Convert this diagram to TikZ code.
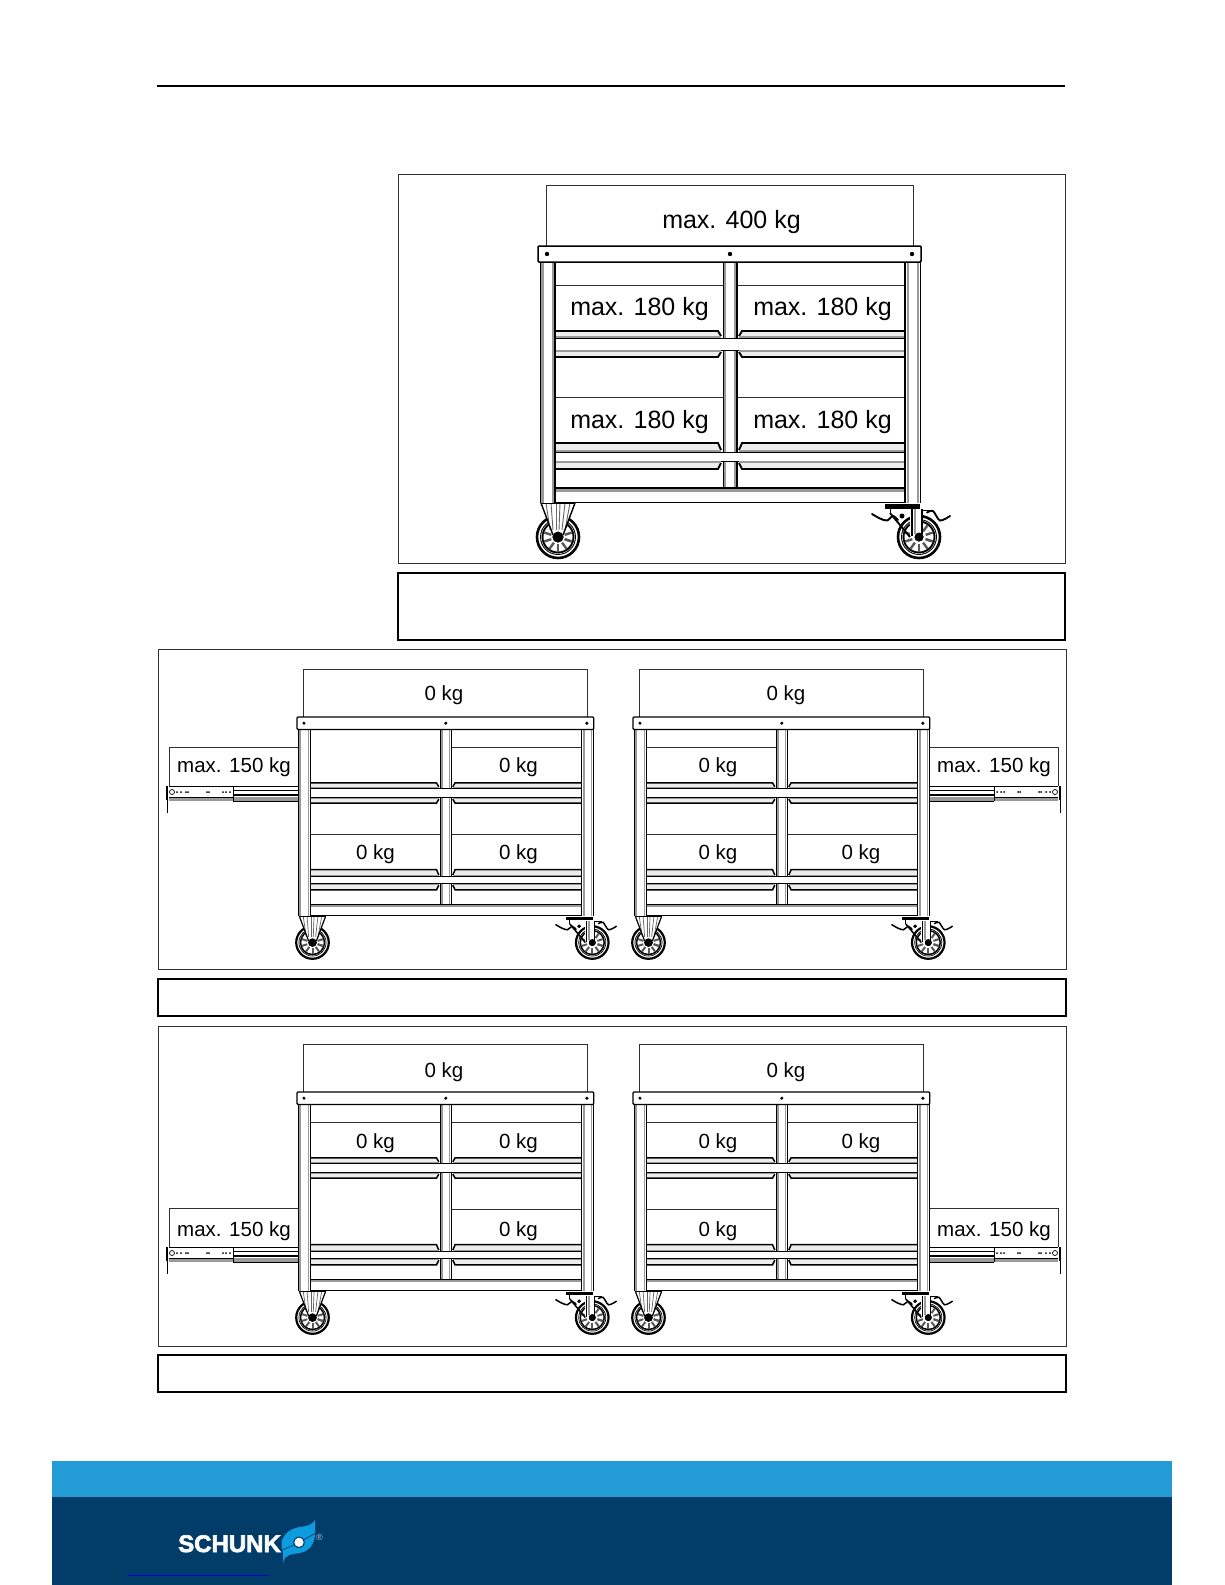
\documentclass[tikz,border=0pt]{standalone}
\usepackage{fontspec}
\usetikzlibrary{calc}
\setmainfont{Liberation Sans}
\definecolor{darkband}{HTML}{023D6A}
\definecolor{lightband}{HTML}{239CD6}
\definecolor{logoblue}{HTML}{0C9BDD}
\definecolor{stripgray}{HTML}{9A9A9A}
\definecolor{framegray}{HTML}{303030}
\tikzset{
  panelframe/.style={draw=framegray,line width=0.9pt},
  capside/.style={draw=black,line width=1.1pt},
  capedge/.style={draw=black,line width=2.7pt},
  biglabel/.style={font=\fontsize{25}{25}\selectfont,inner sep=0pt},
  smalllabel/.style={font=\fontsize{20.5}{21}\selectfont,inner sep=0pt},
}
\newcommand{\capbox}[4]{%
  \draw[capside] (#1,#2) rectangle (#3,#4);
  \draw[capedge] (#1-0.5,#2) -- (#3+0.5,#2);
  \draw[capedge] (#1-0.5,#4) -- (#3+0.5,#4);
}
% #1 x, #2 y, #3 hub radius, #4 thin lw, #5 thick lw
\newcommand{\onewheel}[5]{%
  \fill[white] (#1,#2) circle[radius=22];
  \draw[line width=#5+0.7pt] (#1,#2) circle[radius=21];
  \draw[line width=#4] (#1,#2) circle[radius=17.5];
  \draw[line width=#5] (#1,#2) circle[radius=15.5];
  \foreach \a in {18,54,...,378} {
    \draw[black!65,line width=#5+0.5pt] ($(#1,#2)+(\a:7)$) -- ($(#1,#2)+(\a:14.5)$);
  }
  \fill (#1,#2) circle[radius=#3];
}
\newcommand{\rowshelf}[6]{% t, a, c, b + thin thick
  \fill[stripgray!18] (17,#1) rectangle (181,#2);
  \fill[stripgray!18] (203,#1) rectangle (367,#2);
  \fill[stripgray!18] (17,#3) rectangle (181,#4);
  \fill[stripgray!18] (203,#3) rectangle (367,#4);
  \draw[line width=#6] (17,#1) -- (180,#1) -- (183,#2-2);
  \draw[line width=#6] (367,#1) -- (204,#1) -- (201,#2-2);
  \draw[line width=#6] (17,#4) -- (180,#4) -- (183,#3+2);
  \draw[line width=#6] (367,#4) -- (204,#4) -- (201,#3+2);
  \fill[white] (17,#2) rectangle (367,#3);
  \draw[line width=#5] (17,#2) -- (367,#2);
  \draw[line width=#5] (17,#3) -- (367,#3);
  \fill[stripgray] (17,#2-2.2) rectangle (183,#2-0.4);
  \fill[stripgray] (201,#2-2.2) rectangle (367,#2-0.4);
  \fill[stripgray] (17,#3+0.4) rectangle (183,#3+2.2);
  \fill[stripgray] (201,#3+0.4) rectangle (367,#3+2.2);
}
% #1 x, #2 y, #3 scale, #4 thin lw, #5 thick lw, #6 list of bay/row box lines
\newcommand{\cartbody}[6]{%
\begin{scope}[shift={(#1,#2)},x=#3pt,y=-#3pt]
  % load on the top
  \draw[line width=#4,framegray] (8,0) -- (8,-61) -- (375,-61) -- (375,0);
  % boxes on the shelves
  \foreach \bx/\by in {#6} {
    \draw[line width=#4,framegray] (\bx,\by) -- ++(168,0);
  }
  % centre post
  \fill[white] (185,16) rectangle (199,242);
  \fill[stripgray] (185,16) rectangle (188,242);
  \fill[stripgray] (196,16) rectangle (198,242);
  \draw[line width=#4] (185,16) -- (185,242);
  \draw[line width=#4+0.3pt] (199,16) -- (199,242);
  % shelves
  \rowshelf{85}{92}{104}{111}{#4}{#5}
  \rowshelf{197}{206}{215}{223}{#4}{#5}
  % bottom cross bar
  \fill[white] (17,242) rectangle (367,256);
  \fill[stripgray] (17,243) rectangle (367,245.5);
  \draw[line width=#4+0.4pt] (17,242) -- (367,242);
  \draw[line width=#4+0.5pt] (17,256.5) -- (367,256.5);
  % wheels
  \onewheel{20}{291}{5.5}{#4}{#5}
  \onewheel{381}{291}{4.5}{#4}{#5}
  % fixed caster
  \fill[white] (3,257) -- (37,257) -- (25,289) -- (15,289) -- cycle;
  \foreach \hx/\hb in {8/12,13/15,18/18,22/21,27/24,32/27} {
    \draw[line width=#4,black!60] (\hx,257) -- (\hb,284);
  }
  \draw[line width=#5] (3,257) -- (37,257);
  \draw[line width=#4+0.5pt] (3,257) -- (15,289);
  \draw[line width=#4+0.5pt] (37,257) -- (25,289);
  \fill (20,291) circle[radius=5.5];
  % swivel caster with brake
  \fill[white] (372,264) rectangle (384,291);
  \draw[line width=#4+0.4pt] (374,263) -- (374,290);
  \draw[line width=#4+0.4pt] (384,263) -- (384,288);
  \fill[stripgray] (376,263) rectangle (378,288);
  \fill (347,257.5) rectangle (382,262.5);
  \draw[line width=#4] (352,262) -- (352,267);
  \draw[line width=#5,line cap=round] plot[smooth,tension=0.5] coordinates {(334,268) (342,272.5) (349,274.5) (355,270) (360,274)};
  \draw[line width=#5] (352,267) -- (372,291);
  \draw[line width=#4] (384,264) -- (394,264);
  \draw[line width=#5,line cap=round] plot[smooth,tension=0.5] coordinates {(389,266.5) (395,265) (402,274.5) (412,270)};
  \fill (364,270) circle[radius=2.5];
  \fill (381,291) circle[radius=4.5];
  % legs
  \fill[white] (2,14) rectangle (17,257);
  \fill[stripgray] (3,16) rectangle (5.5,257);
  \fill[stripgray] (14,16) rectangle (16,257);
  \draw[line width=#4] (2,16) -- (2,257);
  \draw[line width=#4+0.6pt] (17,16) -- (17,257);
  \fill[white] (367,14) rectangle (382,257);
  \fill[stripgray] (369,16) rectangle (371,257);
  \fill[stripgray] (379,16) rectangle (381,257);
  \draw[line width=#4+0.6pt] (367,16) -- (367,257);
  \draw[line width=#4] (382,16) -- (382,257);
  % table top
  \draw[line width=#4+0.6pt,fill=white,rounded corners=1pt] (0,0) rectangle (383,16);
  \fill (9,8) circle[radius=2.2];
  \fill (192,8) circle[radius=2.2];
  \fill (374,8) circle[radius=2.2];
\end{scope}}
% #1 x, #2 y, #3 direction (+1 outward to the right, -1 outward to the left)
\newcommand{\slidebody}[3]{%
\begin{scope}[shift={(#1,#2)},x=#3 pt,y=-1pt]
  \draw[line width=0.8pt,framegray] (0,39) -- (0,0) -- (129,0) -- (129,39);
  \fill[stripgray] (0,50) rectangle (129,54);
  \fill[white] (0,39) rectangle (129,50);
  \draw[line width=0.8pt] (0,39) -- (129,39);
  \draw[line width=1.2pt] (0,43.5) -- (65,43.5);
  \draw[line width=1.2pt] (0,48) -- (65,48);
  \draw[line width=1pt] (0,54) -- (65,54);
  \draw[line width=1pt] (65,39) -- (65,54);
  \draw[line width=0.8pt] (65,50) -- (129,50);
  \foreach \d in {68,72,75,89,91,110,112,117,121} {
    \fill (\d,45) circle[radius=1];
  }
  \draw[line width=0.7pt] (126,45) circle[radius=2.5];
  \draw[line width=0.9pt] (131,39) -- (131,66);
  \draw[line width=1.8pt] (131,39) -- (131,53);
\end{scope}}
\begin{document}
\begin{tikzpicture}[x=1pt,y=-1pt]
\useasboundingbox (0,0) rectangle (1225,1585);
\fill[white] (0,0) rectangle (1225,1585);
% header rule
\draw[line width=1.5pt,black] (157,86) -- (1065,86);
% frames
\draw[panelframe] (398,174) rectangle (1065,563);
\capbox{398}{573}{1065}{640}
\draw[panelframe] (158,649) rectangle (1066,969);
\capbox{158}{979}{1066}{1016}
\draw[panelframe] (158,1026) rectangle (1066,1346);
\capbox{158}{1355}{1066}{1392}
% carts
\cartbody{538}{246}{1}{0.9pt}{1.9pt}{17/39,199/39,17/151,199/151}
\slidebody{298}{747}{-1}
\slidebody{929}{747}{1}
\slidebody{298}{1208}{-1}
\slidebody{929}{1208}{1}
\cartbody{297}{717}{0.775}{0.7pt}{1.5pt}{199/39,17/151,199/151}
\cartbody{633}{717}{0.775}{0.7pt}{1.5pt}{17/39,17/151,199/151}
\cartbody{297}{1092}{0.775}{0.7pt}{1.5pt}{17/39,199/39,199/151}
\cartbody{633}{1092}{0.775}{0.7pt}{1.5pt}{17/39,199/39,17/151}
% labels, top panel
\node[biglabel] (loadA) at (731.5,222) {max. 400 kg};
\node[biglabel] (a1) at (639.5,309.5) {max. 180 kg};
\node[biglabel] (a2) at (822.5,309.5) {max. 180 kg};
\node[biglabel] (a3) at (639.5,422.5) {max. 180 kg};
\node[biglabel] (a4) at (822.5,422.5) {max. 180 kg};
% labels, middle panel
\node[smalllabel] (loadB) at (444,695) {0 kg};
\node[smalllabel] (loadC) at (786,695) {0 kg};
\node[smalllabel] (slideB) at (234,767) {max. 150 kg};
\node[smalllabel] (slideC) at (994,767) {max. 150 kg};
\node[smalllabel] (b2) at (518.5,767) {0 kg};
\node[smalllabel] (b3) at (375.5,854) {0 kg};
\node[smalllabel] (b4) at (518.5,854) {0 kg};
\node[smalllabel] (c1) at (718,767) {0 kg};
\node[smalllabel] (c3) at (718,854) {0 kg};
\node[smalllabel] (c4) at (861,854) {0 kg};
% labels, lower panel
\node[smalllabel] (loadD) at (444,1072) {0 kg};
\node[smalllabel] (loadE) at (786,1072) {0 kg};
\node[smalllabel] (d1) at (375.5,1143) {0 kg};
\node[smalllabel] (d2) at (518.5,1143) {0 kg};
\node[smalllabel] (d4) at (518.5,1231) {0 kg};
\node[smalllabel] (e1) at (718,1143) {0 kg};
\node[smalllabel] (e2) at (861,1143) {0 kg};
\node[smalllabel] (e3) at (718,1231) {0 kg};
\node[smalllabel] (slideD) at (234,1231) {max. 150 kg};
\node[smalllabel] (slideE) at (994,1231) {max. 150 kg};
% footer
\fill[lightband] (52,1461) rectangle (1172,1497);
\fill[darkband] (52,1497) rectangle (1172,1585);
\draw[line width=0.8pt,blue!85!black] (127,1575.3) -- (269,1575.3);
\node[font=\fontsize{24}{24}\selectfont\bfseries\addfontfeature{FakeBold=2.6},text=white,anchor=base west,inner sep=0pt] (brand) at (178,1552) {SCHUNK};
\fill[logoblue] (315,1520) -- (315,1533)
  .. controls (315,1543) and (310,1551) .. (300,1553)
  .. controls (293,1554.5) and (285,1553) .. (283,1563)
  -- (283,1552.5)
  .. controls (280.5,1546) and (281,1540.5) .. (284.5,1535.5)
  .. controls (289,1529.5) and (295,1527.5) .. (303,1526.5)
  .. controls (308,1526) and (312,1524.5) .. (315,1520) -- cycle;
\draw[darkband,line width=0.7pt] (281,1550.5) -- (294,1545);
\draw[darkband,line width=0.7pt] (304,1539.5) -- (316,1533);
\fill[darkband] (299,1542.3) circle[radius=5.7];
\fill[white] (299,1542.3) circle[radius=4.6];
\node[font=\fontsize{9}{9}\selectfont,text=white!70!darkband,inner sep=0pt] (reg) at (319.5,1537) {®};
\end{tikzpicture}
\end{document}
